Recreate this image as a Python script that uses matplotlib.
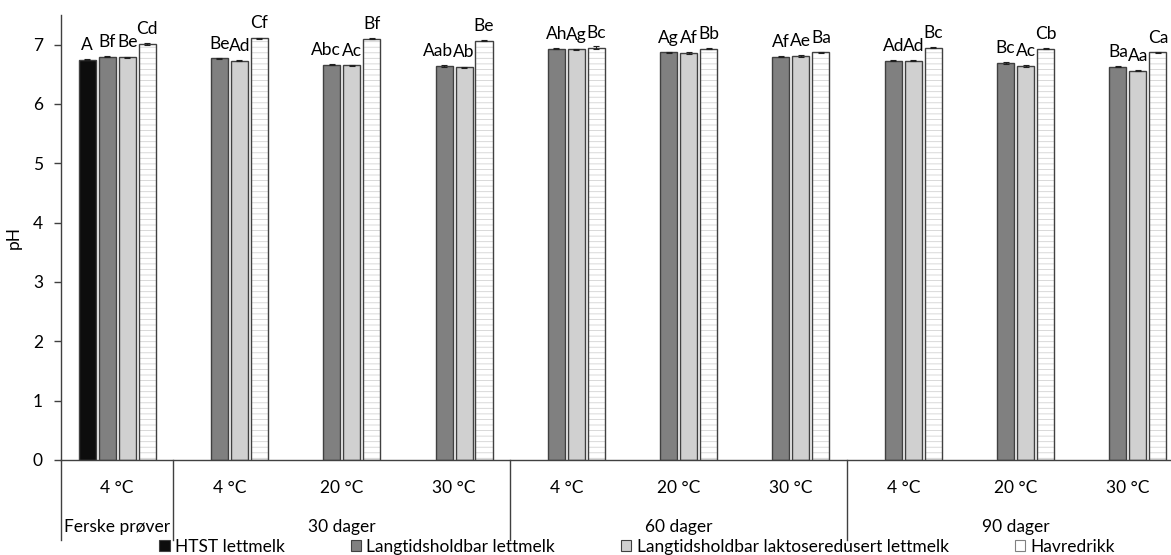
import numpy as np
import matplotlib
matplotlib.use("Agg")
import matplotlib.pyplot as plt
from matplotlib.patches import Patch
import matplotlib.transforms as mtransforms

plt.rcParams['font.family'] = ['Lato', 'DejaVu Sans']
plt.rcParams['hatch.linewidth'] = 0.6

# ---- data ----
temps = ["4 °C", "4 °C", "20 °C", "30 °C", "4 °C", "20 °C", "30 °C", "4 °C", "20 °C", "30 °C"]
groups = ["Ferske prøver", "30 dager", "60 dager", "90 dager"]
group_sizes = [1, 3, 3, 3]
series_names = ["HTST lettmelk", "Langtidsholdbar lettmelk",
                "Langtidsholdbar laktoseredusert lettmelk", "Havredrikk"]

htst = [6.75, np.nan, np.nan, np.nan, np.nan, np.nan, np.nan, np.nan, np.nan, np.nan]
lang = [6.80, 6.77, 6.66, 6.64, 6.93, 6.87, 6.80, 6.73, 6.69, 6.63]
laktose = [6.79, 6.73, 6.65, 6.62, 6.92, 6.86, 6.81, 6.73, 6.64, 6.56]
havre = [7.01, 7.11, 7.10, 7.07, 6.95, 6.93, 6.87, 6.95, 6.93, 6.87]

htst_err = [0.01] + [np.nan] * 9
lang_err = [0.01] * 10
laktose_err = [0.01] * 10
havre_err = [0.01, 0.01, 0.01, 0.01, 0.02, 0.01, 0.01, 0.01, 0.01, 0.01]

htst_lbl = ["A", "", "", "", "", "", "", "", "", ""]
lang_lbl = ["Bf", "Be", "Abc", "Aab", "Ah", "Ag", "Af", "Ad", "Bc", "Ba"]
laktose_lbl = ["Be", "Ad", "Ac", "Ab", "Ag", "Af", "Ae", "Ad", "Ac", "Aa"]
havre_lbl = ["Cd", "Cf", "Bf", "Be", "Bc", "Bb", "Ba", "Bc", "Cb", "Ca"]

yticks = [0, 1, 2, 3, 4, 5, 6, 7]

# ---- figure ----
FS = 12.5
W, H = 1171, 555
fig = plt.figure(figsize=(W / 100, H / 100), dpi=100)
left_px, right_px, top_px, bot_px = 61, 1184, 15, 460
ax = fig.add_axes([left_px / W, (H - bot_px) / H, (right_px - left_px) / W, (bot_px - top_px) / H])

x = np.arange(len(temps))
pitch = 0.178
width = 0.152
offsets = [-1.5 * pitch, -0.5 * pitch, 0.5 * pitch, 1.5 * pitch]
edge = '#404040'
fills = ['#0d0d0d', '#808080', '#d0d0d0', 'white']
all_vals = [htst, lang, laktose, havre]
all_err = [htst_err, lang_err, laktose_err, havre_err]
all_lbl = [htst_lbl, lang_lbl, laktose_lbl, havre_lbl]

for i, (vals, errs, lbls) in enumerate(zip(all_vals, all_err, all_lbl)):
    xs = x + offsets[i]
    if i == 3:
        ax.bar(xs, vals, width, color='white', edgecolor='#d2d2d2', hatch='---', linewidth=0, zorder=2)
        ax.bar(xs, vals, width, color='none', edgecolor=edge, linewidth=1.0, zorder=3)
    else:
        ax.bar(xs, vals, width, color=fills[i], edgecolor=edge, linewidth=1.0, zorder=2)
    ax.errorbar(xs, vals, yerr=errs, fmt='none', ecolor='#202020', elinewidth=0.8,
                capsize=2.5, capthick=0.8, zorder=4)
    for xi, v, t in zip(xs, vals, lbls):
        if t and not np.isnan(v):
            dx = -4.0 if len(t) > 2 else 0.0
            ax.annotate(t, (xi, v), xytext=(dx, 7.0), textcoords='offset points',
                        ha='center', va='baseline', fontsize=FS, color='#000000')

ax.set_xlim(-0.5, len(temps) - 0.5)
ax.set_ylim(0, 7.5)
ax.set_yticks(yticks)
ax.set_yticklabels([str(t) for t in yticks], fontsize=FS)
ax.tick_params(axis='y', direction='out', length=5, width=1, color='#404040', pad=8)
ax.set_xticks([])
for s in ['top', 'right']:
    ax.spines[s].set_visible(False)
for s in ['left', 'bottom']:
    ax.spines[s].set_color('#404040')
    ax.spines[s].set_linewidth(1.0)
ax.set_ylabel("pH", fontsize=FS, labelpad=8)

# multi-level category axis
trans = mtransforms.blended_transform_factory(ax.transData, ax.transAxes)
y_temp = -(488 - bot_px) / (bot_px - top_px)
y_group = -(527 - bot_px) / (bot_px - top_px)
y_div = -(540 - bot_px) / (bot_px - top_px)
for xi, t in zip(x, temps):
    ax.text(xi, y_temp, t, transform=trans, ha='center', va='center', fontsize=FS)
start = 0
bounds = [-0.5]
for g, n in zip(groups, group_sizes):
    center = start + (n - 1) / 2
    ax.text(center, y_group, g, transform=trans, ha='center', va='center', fontsize=FS)
    start += n
    bounds.append(start - 0.5)
for b in bounds:
    ax.plot([b, b], [0, y_div], transform=trans, color='#404040', lw=1.0, clip_on=False)

# legend
handles = [Patch(facecolor=fills[i], edgecolor=edge, linewidth=0.8) for i in range(4)]
handles[3] = Patch(facecolor='white', edgecolor='#808080', linewidth=0.8)
fig.legend(handles, series_names, loc='center', bbox_to_anchor=(637 / W, 1 - 547 / H),
           ncol=4, frameon=False, fontsize=FS, handlelength=0.6, handleheight=0.6,
           handletextpad=0.3, columnspacing=3.8, borderpad=0)

fig.savefig("out.png", dpi=100)
